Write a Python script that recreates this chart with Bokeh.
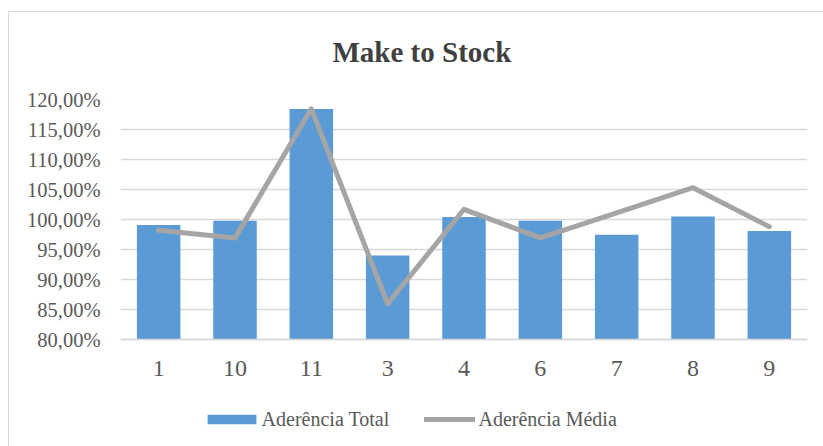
from bokeh.plotting import figure
from bokeh.models import (FactorRange, Range1d, FixedTicker, Legend, LegendItem,
                          ColumnDataSource, InlineStyleSheet)
from bokeh.embed import file_html
from bokeh.resources import INLINE

# Categories (kept in the order they are listed in the sheet)
categories = ["1", "10", "11", "3", "4", "6", "7", "8", "9"]

# Aderência Total (bars), in %
aderencia_total = [99.1, 99.8, 118.4, 94.0, 100.4, 99.8, 97.45, 100.5, 98.1]

# Aderência Média (line), in %
aderencia_media = [98.2, 96.9, 118.45, 85.95, 101.7, 96.95, 101.1, 105.3, 98.8]

# Y axis ticks and their labels
y_ticks = [80, 85, 90, 95, 100, 105, 110, 115, 120]
y_tick_labels = ["80,00%", "85,00%", "90,00%", "95,00%", "100,00%",
                 "105,00%", "110,00%", "115,00%", "120,00%"]

SERIF = "Liberation Serif"
TEXT = "#595959"
GRID = "#d9d9d9"
BLUE = "#5b9bd5"
GRAY = "#a5a5a5"

Y_BASE = 80      # value axis starts here
Y_TOP = 120
PX_PER_UNIT = 6  # frame is 240 px tall between 80 % and 120 %
FRAME_TOP = 99
HEIGHT = 446
# the frame runs to the bottom of the canvas, so the category axis and
# the legend sit inside it, underneath the 80 % baseline
y_start = Y_TOP - (HEIGHT - FRAME_TOP) / PX_PER_UNIT

source = ColumnDataSource(data=dict(cat=categories, total=aderencia_total,
                                    media=aderencia_media))

p = figure(width=823, height=HEIGHT, x_range=FactorRange(*categories),
           y_range=Range1d(y_start, Y_TOP), output_backend="svg",
           toolbar_location=None, min_border_left=120, min_border_right=16,
           min_border_top=FRAME_TOP, min_border_bottom=0)
p.x_range.range_padding = 0
p.outline_line_color = None
p.background_fill_color = "white"
p.border_fill_color = "white"

# Thin frame around the chart area (left and top edges fall inside the canvas)
p.stylesheets = [InlineStyleSheet(css="""
:host::after {
  content: '';
  position: absolute;
  left: 8px; top: 11px; right: 0; bottom: 0;
  border-left: 1.5px solid #d9d9d9;
  border-top: 1.5px solid #d9d9d9;
  pointer-events: none;
}
""")]

bars = p.vbar(x="cat", top="total", bottom=Y_BASE, width=0.57, source=source,
              fill_color=BLUE, line_color=None)
line = p.line(x="cat", y="media", source=source, line_color=GRAY,
              line_width=5, line_join="round", line_cap="round")

# Title
p.title.text = "Make to Stock"
p.title.align = "left"
p.title.offset = 212
p.title.standoff = 63
p.title.text_font = SERIF
p.title.text_font_style = "bold"
p.title.text_font_size = "29px"
p.title.text_color = "#404040"

# Axes
p.xgrid.visible = False
p.ygrid.grid_line_color = GRID
p.ygrid.grid_line_width = 1.5

p.yaxis.ticker = FixedTicker(ticks=y_ticks)
p.yaxis.major_label_overrides = {t: s for t, s in zip(y_ticks, y_tick_labels)}
p.yaxis.axis_line_color = None
p.yaxis.major_tick_line_color = None
p.yaxis.minor_tick_line_color = None
p.yaxis.major_tick_out = 0
p.yaxis.major_label_standoff = 20
p.yaxis.major_label_text_font = SERIF
p.yaxis.major_label_text_font_size = "20.5px"
p.yaxis.major_label_text_color = TEXT

p.xaxis.fixed_location = Y_BASE
p.xaxis.axis_line_color = GRID
p.xaxis.axis_line_width = 1.5
p.xaxis.major_tick_line_color = None
p.xaxis.major_tick_out = 0
p.xaxis.major_label_standoff = 21
p.xaxis.major_label_text_font = SERIF
p.xaxis.major_label_text_font_size = "24px"
p.xaxis.major_label_text_color = TEXT

# Legends (one per series so each glyph gets its own size)
common = dict(orientation="horizontal", padding=0, margin=0,
              border_line_color=None, background_fill_alpha=0,
              label_text_font=SERIF, label_text_font_size="20px",
              label_text_color=TEXT, label_height=20)
leg1 = Legend(items=[LegendItem(label="Aderência Total", renderers=[bars])],
              location=(80.6, 15.4), glyph_width=61, glyph_height=12,
              label_standoff=0, **common)
leg2 = Legend(items=[LegendItem(label="Aderência Média", renderers=[line])],
              location=(303.5, 15.4), glyph_width=51, glyph_height=12,
              label_standoff=4, **common)
p.add_layout(leg1)
p.add_layout(leg2)

open("out.html", "w").write(file_html(p, INLINE))
